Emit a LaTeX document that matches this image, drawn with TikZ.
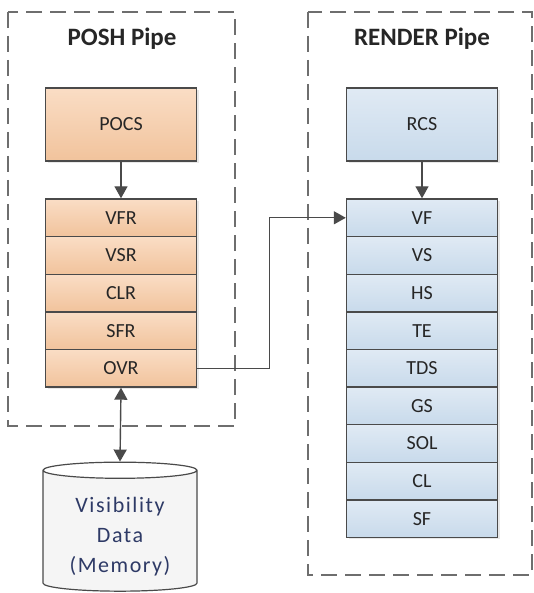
\documentclass[tikz,border=0pt]{standalone}
\usepackage{fontspec}
\setmainfont{Carlito}
\usetikzlibrary{arrows.meta,shapes.geometric,shadows}
\definecolor{edgegray}{HTML}{4A4A4A}
\definecolor{dashgray}{HTML}{6E6E6E}
\definecolor{orangetop}{HTML}{FADDC5}
\definecolor{orangebot}{HTML}{F1C39C}
\definecolor{bluetop}{HTML}{E0EAF4}
\definecolor{bluebot}{HTML}{C8DAEB}
\definecolor{memtext}{HTML}{2E3A66}
\definecolor{labeltext}{HTML}{262626}

\tikzset{
    stage/.style={draw=edgegray, line width=1.4pt, minimum width=151pt, inner sep=0pt,
        text=labeltext, font=\fontsize{20}{22}\selectfont,
        drop shadow={opacity=0.18, shadow xshift=2pt, shadow yshift=-2pt}},
    poshbox/.style={stage, top color=orangetop, bottom color=orangebot},
    renderbox/.style={stage, top color=bluetop, bottom color=bluebot},
    pipeframe/.style={draw=dashgray, line width=1.8pt, dash pattern=on 16pt off 8pt},
    pipetitle/.style={font=\fontsize{25}{28}\selectfont\bfseries, text=labeltext},
    flow/.style={draw=edgegray, line width=1.4pt, -{Triangle[length=12pt,width=13pt]}},
}

\begin{document}
\begin{tikzpicture}[x=1pt, y=-1pt]
    \useasboundingbox (0,0) rectangle (533,593);
    % Dashed pipe frames
    \draw[pipeframe] (8,12) rectangle (235,426);
    \draw[pipeframe] (308,12) rectangle (532,575);
    \node[pipetitle] (poshtitle) at (122,39) {POSH Pipe};
    \node[pipetitle] (rendertitle) at (422,39) {RENDER Pipe};

    % Command stream boxes
    \node[poshbox, minimum height=73pt] (POCS) at (121,124.5) {POCS};
    \node[renderbox, minimum height=73pt] (RCS) at (422,124.5) {RCS};

    % POSH stages
    \foreach \s [count=\i] in {VFR,VSR,CLR,SFR,OVR} {
        \node[poshbox, minimum height=37.6pt] (\s) at (121,{199+37.6*(\i-0.5)}) {\s};
    }
    % RENDER stages
    \foreach \s [count=\i] in {VF,VS,HS,TE,TDS,GS,SOL,CL,SF} {
        \node[renderbox, minimum height=37.6pt] (\s) at (422,{199+37.6*(\i-0.5)}) {\s};
    }

    % Memory
    \node[cylinder, shape border rotate=90, aspect=0.16, draw=edgegray, line width=1.2pt,
        minimum width=154pt, minimum height=129pt, inner sep=0pt,
        cylinder uses custom fill, cylinder body fill=gray!8, cylinder end fill=white,
        align=center, text=memtext, font=\fontsize{22}{30}\selectfont\addfontfeatures{LetterSpace=7}]
        (mem) at (120,531) {\\[-4pt]Visibility\\Data\\(Memory)};

    % Connections
    \draw[flow] (POCS) -- (VFR);
    \draw[flow] (RCS) -- (VF);
    \draw[flow] (OVR.east) -- ++(72,0) |- (VF.west);
    \draw[flow, {Triangle[length=12pt,width=13pt]}-{Triangle[length=12pt,width=13pt]}] (OVR.south) -- (mem.north);
\end{tikzpicture}
\end{document}
